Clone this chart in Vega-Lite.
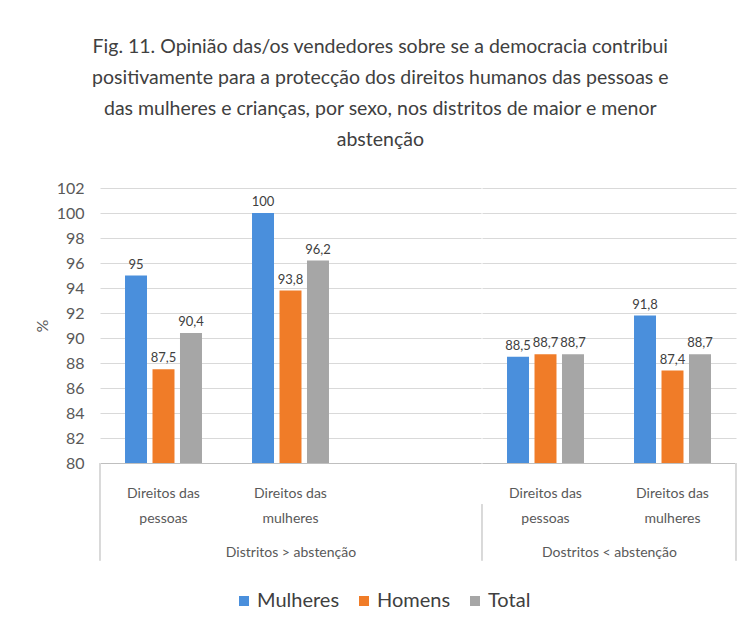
{
  "$schema": "https://vega.github.io/schema/vega-lite/v6.json",
  "background": "white",
  "padding": {"left": 34, "top": 36, "right": 5, "bottom": 5},
  "title": {
    "text": ["Fig. 11. Opinião das/os vendedores sobre se a democracia contribui", "positivamente para a protecção dos direitos humanos das pessoas e", "das mulheres e crianças, por sexo, nos distritos de maior e menor", "abstenção"],
    "font": "Lato",
    "fontSize": 19.5,
    "fontWeight": "normal",
    "color": "#404040",
    "lineHeight": 31,
    "anchor": "middle",
    "dx": -5,
    "offset": 30
  },
  "config": {
    "locale": {"number": {"decimal": ",", "thousands": ".", "grouping": [3], "currency": ["", "€"]}},
    "view": {"stroke": null},
    "font": "Lato",
    "axis": {"labelFont": "Lato", "titleFont": "Lato", "labelColor": "#595959", "titleColor": "#595959", "titleFontWeight": "normal"}
  },
  "data": {"values": [
    {"grp": "A", "cat": "Direitos das pessoas", "serie": "Mulheres", "valor": 95},
    {"grp": "A", "cat": "Direitos das pessoas", "serie": "Homens", "valor": 87.5},
    {"grp": "A", "cat": "Direitos das pessoas", "serie": "Total", "valor": 90.4},
    {"grp": "A", "cat": "Direitos das mulheres", "serie": "Mulheres", "valor": 100},
    {"grp": "A", "cat": "Direitos das mulheres", "serie": "Homens", "valor": 93.8},
    {"grp": "A", "cat": "Direitos das mulheres", "serie": "Total", "valor": 96.2},
    {"grp": "B", "cat": "Direitos das pessoas", "serie": "Mulheres", "valor": 88.5},
    {"grp": "B", "cat": "Direitos das pessoas", "serie": "Homens", "valor": 88.7},
    {"grp": "B", "cat": "Direitos das pessoas", "serie": "Total", "valor": 88.7},
    {"grp": "B", "cat": "Direitos das mulheres", "serie": "Mulheres", "valor": 91.8},
    {"grp": "B", "cat": "Direitos das mulheres", "serie": "Homens", "valor": 87.4},
    {"grp": "B", "cat": "Direitos das mulheres", "serie": "Total", "valor": 88.7}
  ]},
  "spacing": 0,
  "resolve": {"scale": {"color": "shared", "y": "shared", "x": "independent", "xOffset": "independent"}},
  "hconcat": [
    {
      "width": 381,
      "height": 275,
      "transform": [{"filter": "datum.grp == 'A'"}],
      "encoding": {
        "x": {"field": "cat", "type": "nominal", "sort": null,
          "scale": {"domain": ["Direitos das pessoas", "Direitos das mulheres", " "], "paddingInner": 0, "paddingOuter": 0},
          "axis": {"title": "Distritos > abstenção", "titleFontSize": 14, "titlePadding": 20, "labelAngle": 0, "labelFontSize": 14, "labelLineHeight": 25, "labelPadding": 23, "ticks": false, "domainColor": "#bfbfbf",
            "labelExpr": "datum.value == ' ' ? '' : (indexof(datum.value, 'pessoas') >= 0 ? ['Direitos das', 'pessoas'] : ['Direitos das', 'mulheres'])"}},
        "y": {"field": "valor", "type": "quantitative",
          "scale": {"domain": [80, 102], "zero": false, "nice": false},
          "axis": {"title": "%", "titleFontSize": 16, "titlePadding": 6, "values": [80, 82, 84, 86, 88, 90, 92, 94, 96, 98, 100, 102], "labelFontSize": 16, "labelPadding": 16, "ticks": false, "domain": false, "gridColor": "#d9d9d9", "format": "d"}}
      },
      "layer": [
        {"mark": {"type": "bar"},
         "encoding": {"y2": {"datum": 80},
           "xOffset": {"field": "serie", "type": "nominal", "sort": ["Mulheres", "Homens", "Total"], "scale": {"paddingInner": 0.2, "paddingOuter": 0.91}},
           "color": {"field": "serie", "type": "nominal", "sort": ["Mulheres", "Homens", "Total"],
           "scale": {"domain": ["Mulheres", "Homens", "Total"], "range": ["#4a8fdc", "#f07c28", "#a6a6a6"]},
           "legend": {"title": null, "orient": "none", "direction": "horizontal", "legendX": 134, "legendY": 403, "symbolType": "square", "symbolSize": 100, "labelFontSize": 20, "labelColor": "#404040", "labelFont": "Lato", "columnPadding": 14, "labelOffset": 3}}}},
        {"mark": {"type": "text", "dy": -11, "fontSize": 13, "color": "#404040", "font": "Lato"},
         "encoding": {"text": {"field": "valor", "type": "quantitative", "format": "~g"},
           "xOffset": {"field": "serie", "type": "nominal", "sort": ["Mulheres", "Homens", "Total"], "scale": {"paddingInner": 0.2, "paddingOuter": 0.91}}}},
        {"mark": {"type": "rule", "color": "#d9d9d9", "strokeWidth": 1},
         "encoding": {"x": {"datum": "Direitos das pessoas", "bandPosition": 0}, "y": {"datum": 80}, "y2": {"datum": 72.2}}}
      ]
    },
    {
      "width": 254,
      "height": 275,
      "transform": [{"filter": "datum.grp == 'B'"}],
      "encoding": {
        "x": {"field": "cat", "type": "nominal", "sort": null,
          "scale": {"domain": ["Direitos das pessoas", "Direitos das mulheres"], "paddingInner": 0, "paddingOuter": 0},
          "axis": {"title": "Dostritos < abstenção", "titleFontSize": 14, "titlePadding": 20, "labelAngle": 0, "labelFontSize": 14, "labelLineHeight": 25, "labelPadding": 23, "ticks": false, "domainColor": "#bfbfbf",
            "labelExpr": "indexof(datum.value, 'pessoas') >= 0 ? ['Direitos das', 'pessoas'] : ['Direitos das', 'mulheres']"}},
        "y": {"field": "valor", "type": "quantitative",
          "scale": {"domain": [80, 102], "zero": false, "nice": false},
          "axis": {"title": null, "labels": false, "values": [80, 82, 84, 86, 88, 90, 92, 94, 96, 98, 100, 102], "ticks": false, "domain": false, "gridColor": "#d9d9d9"}}
      },
      "layer": [
        {"mark": {"type": "bar"},
         "encoding": {"y2": {"datum": 80},
           "xOffset": {"field": "serie", "type": "nominal", "sort": ["Mulheres", "Homens", "Total"], "scale": {"paddingInner": 0.2, "paddingOuter": 0.91}},
           "color": {"field": "serie", "type": "nominal", "sort": ["Mulheres", "Homens", "Total"],
           "scale": {"domain": ["Mulheres", "Homens", "Total"], "range": ["#4a8fdc", "#f07c28", "#a6a6a6"]}}}},
        {"mark": {"type": "text", "dy": -11, "fontSize": 13, "color": "#404040", "font": "Lato"},
         "encoding": {"text": {"field": "valor", "type": "quantitative", "format": "~g"},
           "xOffset": {"field": "serie", "type": "nominal", "sort": ["Mulheres", "Homens", "Total"], "scale": {"paddingInner": 0.2, "paddingOuter": 0.91}}}},
        {"mark": {"type": "rule", "color": "#d9d9d9", "strokeWidth": 1},
         "encoding": {"x": {"datum": "Direitos das pessoas", "bandPosition": 0}, "y": {"datum": 76.7}, "y2": {"datum": 72.2}}},
        {"mark": {"type": "rule", "color": "#d9d9d9", "strokeWidth": 1},
         "encoding": {"x": {"datum": "Direitos das mulheres", "bandPosition": 1}, "y": {"datum": 80}, "y2": {"datum": 72.2}}}
      ]
    }
  ]
}
